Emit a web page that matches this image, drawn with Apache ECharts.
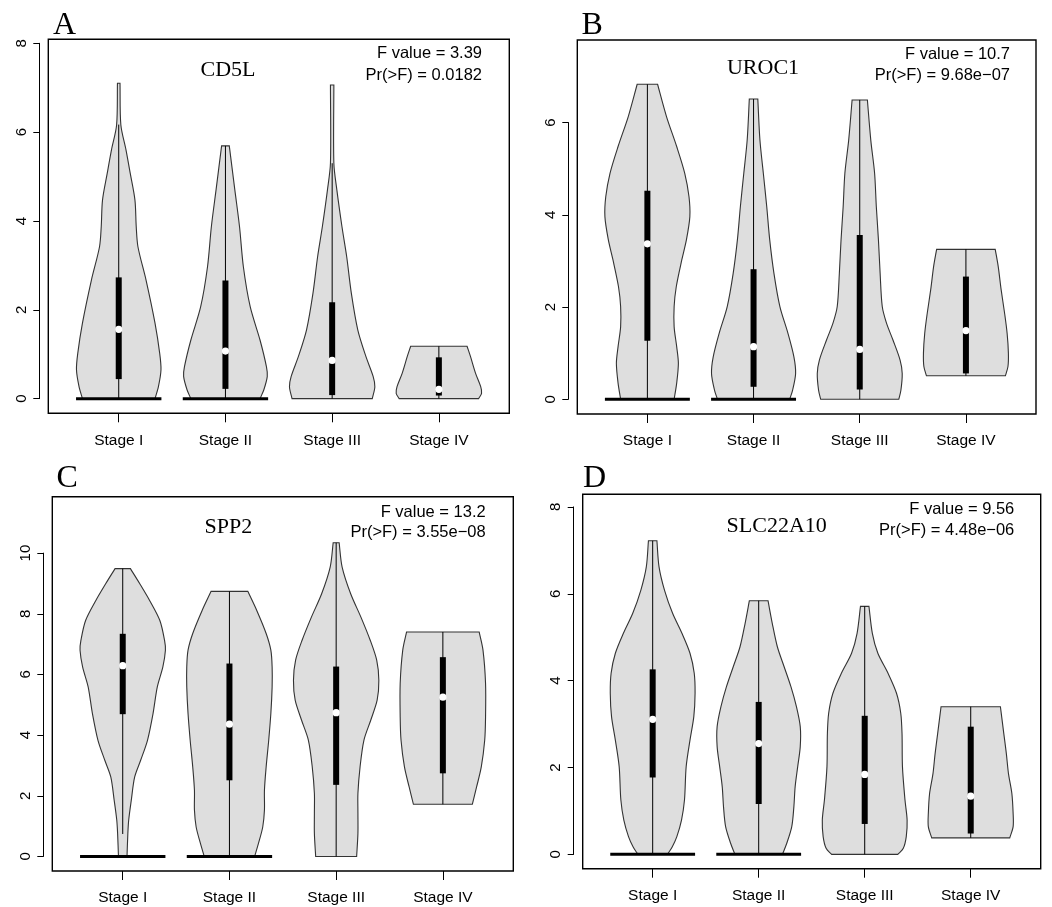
<!DOCTYPE html>
<html>
<head>
<meta charset="utf-8">
<script src="https://cdn.jsdelivr.net/npm/echarts@6/dist/echarts.min.js"></script>
<style>
  html, body { margin: 0; padding: 0; background: #fff; }
  #chart { width: 1052px; height: 907px; }
</style>
</head>
<body>
<div id="chart"></div>
<script>
// ---- shared categories ----
const stages = ['Stage I', 'Stage II', 'Stage III', 'Stage IV'];

// ---- CD5L ----
// violin outlines: [expression, relative density] from bottom to top
const cd5lViolins = [
  [[0,0.85],[0.27,0.93],[0.65,0.99],[1.02,0.96],[1.70,0.85],[2.67,0.64],[3.42,0.45],[3.87,0.41],[4.47,0.38],[5.07,0.27],[5.60,0.17],[6.16,0.05],[7.10,0.03]],
  [[0,0.81],[0.20,0.90],[0.50,0.98],[0.72,0.96],[1.32,0.81],[2.07,0.58],[2.97,0.42],[3.87,0.33],[4.70,0.22],[5.69,0.09]],
  [[0,0.94],[0.27,1.0],[0.50,0.96],[0.95,0.79],[1.55,0.60],[2.37,0.45],[3.20,0.34],[3.87,0.23],[4.70,0.11],[5.30,0.04],[7.06,0.04]],
  [[0,0.93],[0.12,1.0],[0.27,0.98],[0.57,0.86],[0.95,0.74],[1.18,0.66]]
];
const cd5lQ1 = [0.44, 0.22, 0.08, 0.07];
const cd5lMedian = [1.56, 1.07, 0.86, 0.21];
const cd5lQ3 = [2.73, 2.66, 2.17, 0.93];
const cd5lWhiskerLow = [0, 0, 0, 0];
const cd5lWhiskerHigh = [6.17, 5.69, 5.30, 1.18];
const cd5lZeroMass = [1, 1, 0, 0];
const cd5lTicks = [0, 2, 4, 6, 8];

// ---- UROC1 ----
const uroc1Violins = [
  [[0,0.63],[0.35,0.69],[0.78,0.73],[1.14,0.69],[1.57,0.63],[2.01,0.63],[2.44,0.68],[3.02,0.81],[3.46,0.92],[3.96,1.0],[4.39,0.98],[4.90,0.88],[5.48,0.69],[6.13,0.45],[6.83,0.24]],
  [[0,0.85],[0.20,0.92],[0.56,0.99],[0.92,0.95],[1.43,0.81],[2.01,0.62],[2.73,0.48],[3.46,0.38],[4.18,0.31],[4.90,0.23],[5.62,0.15],[6.51,0.10]],
  [[0,0.92],[0.20,0.97],[0.56,1.0],[0.85,0.95],[1.29,0.78],[1.65,0.63],[2.01,0.53],[2.73,0.48],[3.46,0.44],[4.18,0.39],[4.90,0.35],[5.62,0.26],[6.49,0.18]],
  [[0.51,0.93],[0.71,0.99],[1.0,1.0],[1.43,0.97],[1.87,0.91],[2.37,0.83],[2.88,0.76],[3.25,0.69]]
];
const uroc1Q1 = [1.27, 0.27, 0.21, 0.56];
const uroc1Median = [3.37, 1.14, 1.08, 1.49];
const uroc1Q3 = [4.52, 2.82, 3.56, 2.66];
const uroc1WhiskerLow = [0, 0, 0, 0.51];
const uroc1WhiskerHigh = [6.83, 6.51, 6.49, 3.25];
const uroc1ZeroMass = [1, 1, 0, 0];
const uroc1Ticks = [0, 2, 4, 6];

// ---- SPP2 ----
const spp2Violins = [
  [[0,0.10],[0.76,0.12],[1.20,0.14],[1.85,0.20],[2.62,0.28],[3.17,0.42],[3.83,0.58],[4.71,0.71],[5.59,0.81],[6.25,0.94],[6.80,1.0],[7.12,0.98],[7.78,0.87],[8.44,0.63],[8.99,0.40],[9.49,0.18]],
  [[0,0.59],[0.43,0.68],[0.97,0.78],[1.53,0.82],[2.18,0.82],[2.95,0.86],[3.83,0.92],[4.71,0.97],[5.59,1.0],[6.25,1.0],[6.80,0.97],[7.35,0.86],[8.11,0.64],[8.74,0.43]],
  [[0,0.48],[0.76,0.51],[1.42,0.51],[2.08,0.51],[2.95,0.56],[3.83,0.65],[4.49,0.81],[5.15,0.96],[5.81,1.0],[6.47,0.95],[7.12,0.80],[7.89,0.58],[8.66,0.34],[9.54,0.14],[10.34,0.07]],
  [[1.72,0.69],[2.29,0.79],[2.95,0.90],[3.83,0.98],[4.60,1.0],[5.70,1.0],[6.80,0.94],[7.40,0.85]]
];
const spp2Q1 = [4.69, 2.51, 2.36, 2.74];
const spp2Median = [6.29, 4.36, 4.74, 5.25];
const spp2Q3 = [7.34, 6.36, 6.26, 6.57];
const spp2WhiskerLow = [0.74, 0, 0, 1.72];
const spp2WhiskerHigh = [9.49, 8.74, 10.34, 7.40];
const spp2ZeroMass = [1, 1, 0, 0];
const spp2Ticks = [0, 2, 4, 6, 8, 10];

// ---- SLC22A10 ----
const slc22a10Violins = [
  [[0,0.35],[0.17,0.46],[0.41,0.57],[0.79,0.68],[1.25,0.75],[2.02,0.79],[2.63,0.88],[3.17,0.97],[3.71,1.0],[4.17,0.98],[4.63,0.88],[5.09,0.69],[5.55,0.47],[6.08,0.28],[6.62,0.15],[7.22,0.10]],
  [[0,0.56],[0.25,0.66],[0.64,0.78],[1.10,0.83],[1.56,0.86],[2.02,0.92],[2.48,0.98],[2.94,0.98],[3.40,0.89],[3.86,0.76],[4.32,0.60],[4.78,0.44],[5.32,0.32],[5.84,0.22]],
  [[0,0.78],[0.14,0.91],[0.41,0.98],[0.79,1.0],[1.25,0.95],[2.02,0.89],[2.78,0.88],[3.25,0.85],[3.71,0.75],[4.17,0.55],[4.63,0.31],[5.09,0.18],[5.71,0.10]],
  [[0.38,0.92],[0.64,1.0],[0.94,1.0],[1.40,0.97],[1.86,0.89],[2.32,0.84],[2.78,0.78],[3.40,0.70]]
];
const slc22a10Q1 = [1.77, 1.16, 0.70, 0.48];
const slc22a10Median = [3.11, 2.55, 1.84, 1.34];
const slc22a10Q3 = [4.26, 3.51, 3.19, 2.94];
const slc22a10WhiskerLow = [0, 0, 0, 0.38];
const slc22a10WhiskerHigh = [7.22, 5.84, 5.71, 3.40];
const slc22a10ZeroMass = [1, 1, 0, 0];
const slc22a10Ticks = [0, 2, 4, 6, 8];

// ---- panels ----
const panels = [
  { letter: 'A', gene: 'CD5L', fValue: '3.39', pValue: '0.0182', ticks: cd5lTicks,
    violins: cd5lViolins, q1: cd5lQ1, median: cd5lMedian, q3: cd5lQ3,
    whiskerLow: cd5lWhiskerLow, whiskerHigh: cd5lWhiskerHigh, zeroMass: cd5lZeroMass },
  { letter: 'B', gene: 'UROC1', fValue: '10.7', pValue: '9.68e\u221207', ticks: uroc1Ticks,
    violins: uroc1Violins, q1: uroc1Q1, median: uroc1Median, q3: uroc1Q3,
    whiskerLow: uroc1WhiskerLow, whiskerHigh: uroc1WhiskerHigh, zeroMass: uroc1ZeroMass },
  { letter: 'C', gene: 'SPP2', fValue: '13.2', pValue: '3.55e\u221208', ticks: spp2Ticks,
    violins: spp2Violins, q1: spp2Q1, median: spp2Median, q3: spp2Q3,
    whiskerLow: spp2WhiskerLow, whiskerHigh: spp2WhiskerHigh, zeroMass: spp2ZeroMass },
  { letter: 'D', gene: 'SLC22A10', fValue: '9.56', pValue: '4.48e\u221206', ticks: slc22a10Ticks,
    violins: slc22a10Violins, q1: slc22a10Q1, median: slc22a10Median, q3: slc22a10Q3,
    whiskerLow: slc22a10WhiskerLow, whiskerHigh: slc22a10WhiskerHigh, zeroMass: slc22a10ZeroMass }
];

// ---- page geometry (pixels) and axis ranges ----
const frames = [
  { left: 48.3,  top: 39.3,  width: 461,   height: 374,   yMin: -0.33, yMax: 8.09,
    letterX: 53,    letterY: 26,  titleX: 228,   titleY: 70,    statX: 482,    statY: [53.5, 75] },
  { left: 577.3, top: 40,    width: 458.7, height: 374,   yMin: -0.32, yMax: 7.79,
    letterX: 581.5, letterY: 26,  titleX: 763,   titleY: 68,    statX: 1010,   statY: [54.5, 75] },
  { left: 52.3,  top: 496.7, width: 461,   height: 374.3, yMin: -0.48, yMax: 11.86,
    letterX: 56.5,  letterY: 479, titleX: 228.3, titleY: 527.3, statX: 485.7,  statY: [512, 532.7] },
  { left: 582.7, top: 494.3, width: 458,   height: 374.4, yMin: -0.33, yMax: 8.29,
    letterX: 583,   letterY: 479, titleX: 776.7, titleY: 525.8, statX: 1014.3, statY: [509.3, 530] }
];

const X_MIN = 0.34, X_MAX = 4.66;
const HALF_WIDTH = 0.4;      // widest point of each violin, in category units
const Y_AXIS_OFFSET = 9;     // left axis sits detached from the frame
const SANS = "'Liberation Sans', Arial, sans-serif";
const SERIF = "'Liberation Serif', 'Times New Roman', serif";
const N = panels.length;

function violinRenderer(p) {
  return function (params, api) {
    const i = params.dataIndex;
    const pos = api.value(0);
    const prof = p.violins[i];
    const cx = api.coord([pos, 0])[0];
    const hw = api.size([HALF_WIDTH, 0])[0];
    const yOf = v => api.coord([pos, v])[1];
    const right = prof.map(([v, d]) => [cx + d * hw, yOf(v)]);
    const left = prof.map(([v, d]) => [cx - d * hw, yOf(v)]).reverse();
    // doubled end points keep the flat top and bottom edges sharp while the sides are smoothed
    const pin = pts => [pts[0]].concat(pts, [pts[pts.length - 1]]);
    const children = [{
      type: 'polygon',
      shape: { points: pin(right).concat(pin(left)), smooth: 0.3 },
      style: { fill: '#dedede', stroke: '#333', lineWidth: 1.1 }
    }];
    if (p.zeroMass[i] > 0) {
      const y0 = yOf(0);
      children.push({ type: 'line',
        shape: { x1: cx - p.zeroMass[i] * hw, y1: y0, x2: cx + p.zeroMass[i] * hw, y2: y0 },
        style: { stroke: '#000', lineWidth: 3 } });
    }
    children.push({ type: 'line',
      shape: { x1: cx, y1: yOf(p.whiskerLow[i]), x2: cx, y2: yOf(p.whiskerHigh[i]) },
      style: { stroke: '#000', lineWidth: 1 } });
    const yq3 = yOf(p.q3[i]), yq1 = yOf(p.q1[i]);
    children.push({ type: 'rect', shape: { x: cx - 3, y: yq3, width: 6, height: yq1 - yq3 },
      style: { fill: '#000' } });
    children.push({ type: 'circle', shape: { cx: cx, cy: yOf(p.median[i]), r: 3.6 },
      style: { fill: '#fff' } });
    return { type: 'group', children: children };
  };
}

// grids 0..3: the framed plots; grids 4..7: slim strips carrying the detached value axes
// yAxis 0..3: plot scales; 4..7: visible value axes; 8..11: [0,1] references pinning the
// category axis to the frame bottom
const grids = [], xAxes = [], yAxes = [], series = [], texts = [];
panels.forEach((p, k) => {
  const f = frames[k];
  grids.push({ left: f.left, top: f.top, width: f.width, height: f.height,
    show: true, borderColor: '#000', borderWidth: 1.4, backgroundColor: 'transparent',
    containLabel: false, outerBoundsMode: 'none' });
  xAxes.push({ gridIndex: k, type: 'value', min: X_MIN, max: X_MAX, position: 'bottom',
    axisLine: { show: false, onZero: true, onZeroAxisIndex: 2 * N + k },
    splitLine: { show: false },
    axisTick: { show: true, customValues: [1, 2, 3, 4], length: 9,
      lineStyle: { color: '#000', width: 1 } },
    axisLabel: { show: true, customValues: [1, 2, 3, 4], margin: 19,
      formatter: v => stages[Math.round(v) - 1],
      fontFamily: SANS, fontSize: 15.5, color: '#000' } });
  yAxes.push({ gridIndex: k, type: 'value', min: f.yMin, max: f.yMax, show: false });
  series.push({ type: 'custom', xAxisIndex: k, yAxisIndex: k, clip: false,
    data: stages.map((s, i) => [i + 1]), renderItem: violinRenderer(p), silent: true });

  texts.push({ type: 'text', x: f.letterX, y: f.letterY,
    style: { text: p.letter, font: '32px ' + SERIF, fill: '#000', align: 'left', verticalAlign: 'middle' } });
  texts.push({ type: 'text', x: f.titleX, y: f.titleY,
    style: { text: p.gene, font: '22px ' + SERIF, fill: '#000', align: 'center', verticalAlign: 'middle' } });
  texts.push({ type: 'text', x: f.statX, y: f.statY[0],
    style: { text: 'F value = ' + p.fValue, font: '16.5px ' + SANS, fill: '#000', align: 'right', verticalAlign: 'middle' } });
  texts.push({ type: 'text', x: f.statX, y: f.statY[1],
    style: { text: 'Pr(>F) = ' + p.pValue, font: '16.5px ' + SANS, fill: '#000', align: 'right', verticalAlign: 'middle' } });
});
panels.forEach((p, k) => {
  const f = frames[k];
  const t0 = p.ticks[0], t1 = p.ticks[p.ticks.length - 1];
  const pxPerUnit = f.height / (f.yMax - f.yMin);
  // strip spanning exactly the labelled range of the plot scale
  grids.push({ left: f.left - Y_AXIS_OFFSET, width: 1,
    top: f.top + (f.yMax - t1) * pxPerUnit, height: (t1 - t0) * pxPerUnit,
    show: false, containLabel: false, outerBoundsMode: 'none' });
  xAxes.push({ gridIndex: N + k, type: 'value', min: 0, max: 1, show: false });
  yAxes.push({ gridIndex: N + k, type: 'value', min: t0, max: t1, position: 'left',
    axisLine: { show: true, onZero: false, lineStyle: { color: '#000', width: 1 } },
    splitLine: { show: false },
    axisTick: { show: true, customValues: p.ticks, length: 6,
      lineStyle: { color: '#000', width: 1 } },
    axisLabel: { show: true, customValues: p.ticks, rotate: 90, margin: 10,
      fontFamily: SANS, fontSize: 15, color: '#000' } });
});
panels.forEach((p, k) => {
  yAxes.push({ gridIndex: k, type: 'value', min: 0, max: 1, show: false });
});

const chart = echarts.init(document.getElementById('chart'), null, { renderer: 'canvas' });
chart.setOption({
  animation: false,
  backgroundColor: '#fff',
  grid: grids,
  xAxis: xAxes,
  yAxis: yAxes,
  series: series,
  graphic: { elements: texts }
});
</script>
</body>
</html>
